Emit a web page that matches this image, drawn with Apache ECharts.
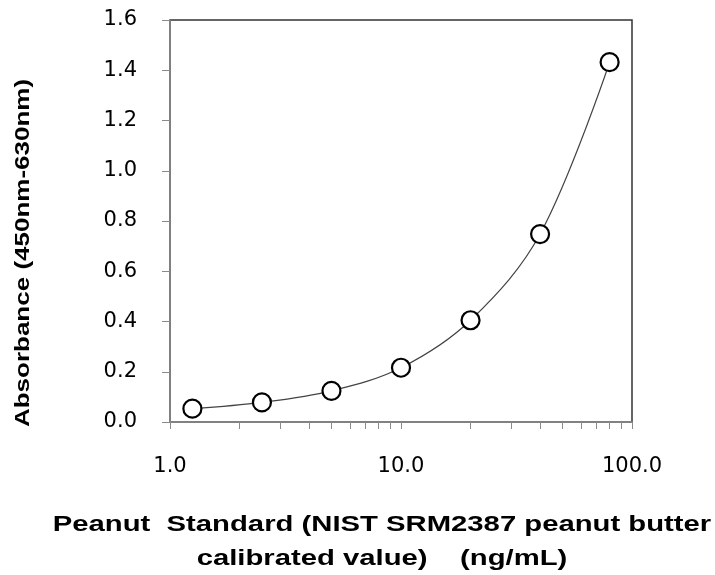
<!DOCTYPE html>
<html>
<head>
<meta charset="utf-8">
<title>Peanut standard curve</title>
<script src="https://cdn.jsdelivr.net/npm/echarts@6/dist/echarts.min.js"></script>
<style>
  html, body { margin: 0; padding: 0; background: #fff; }
  #chart { width: 715px; height: 575px; }
</style>
</head>
<body>
<div id="chart"></div>
<script>
// concentration (ng/mL) and absorbance
const concentration = [1.25, 2.5, 5, 10, 20, 40, 80]
const absorbance = [0.053, 0.078, 0.124, 0.216, 0.405, 0.748, 1.432]
// log axis: labelled decades + minor ticks
const xLabelValues = [1, 10, 100]
const xTickValues = [1, 2, 3, 4, 5, 6, 7, 8, 9, 10, 20, 30, 40, 50, 60, 70, 80, 90, 100]
const yTicks = [0, 0.2, 0.4, 0.6, 0.8, 1.0, 1.2, 1.4, 1.6]

const xTitle = ['Peanut  Standard (NIST SRM2387 peanut butter', 'calibrated value)    (ng/mL)']
const yTitle = 'Absorbance (450nm-630nm)'

const chart = echarts.init(document.getElementById('chart'))

const axisGrey = '#8a8a8a'
const tickFont = {color: '#000', fontFamily: 'DejaVu Sans', fontSize: 21}

const option = {
    animation: false,
    backgroundColor: '#fff',
    grid: {
        left: 170,
        right: 83,
        top: 20,
        bottom: 153,
        show: true,
        borderColor: '#333',
        borderWidth: 1.5
    },
    xAxis: {
        type: 'log',
        logBase: 10,
        min: 1,
        max: 100,
        axisLine: {show: true, lineStyle: {color: axisGrey, width: 1.5}},
        axisTick: {
            show: true,
            inside: false,
            length: 7,
            customValues: xTickValues,
            lineStyle: {color: axisGrey, width: 1}
        },
        axisLabel: {
            ...tickFont,
            margin: 34,
            customValues: xLabelValues,
            formatter: v => Number(v).toFixed(1)
        },
        splitLine: {show: false}
    },
    yAxis: {
        type: 'value',
        min: 0,
        max: 1.6,
        interval: 0.2,
        axisLine: {show: true, lineStyle: {color: axisGrey, width: 1.5}},
        axisTick: {show: true, inside: false, length: 8, lineStyle: {color: axisGrey, width: 1}},
        axisLabel: {
            ...tickFont,
            margin: 33,
            customValues: yTicks,
            formatter: v => Number(v).toFixed(1)
        },
        splitLine: {show: false}
    },
    graphic: [
        {
            type: 'text',
            x: 382,
            y: 508,
            scaleX: 1.33,
            style: {
                text: xTitle.join('\n'),
                fontFamily: 'Liberation Sans',
                fontWeight: 'bold',
                fontSize: 22,
                lineHeight: 34,
                fill: '#000',
                textAlign: 'center',
                textVerticalAlign: 'top'
            }
        },
        {
            type: 'text',
            x: 23,
            y: 253,
            rotation: Math.PI / 2,
            scaleX: 1.3,
            style: {
                text: yTitle,
                fontFamily: 'Liberation Sans',
                fontWeight: 'bold',
                fontSize: 20,
                fill: '#000',
                textAlign: 'center',
                textVerticalAlign: 'middle'
            }
        }
    ],
    series: [
        {
            type: 'line',
            data: concentration.map((c, i) => [c, absorbance[i]]),
            smooth: 0.35,
            symbol: 'circle',
            symbolSize: 18,
            lineStyle: {color: '#444', width: 1.2},
            itemStyle: {color: '#fff', borderColor: '#000', borderWidth: 2.2},
            z: 3
        }
    ]
}

chart.setOption(option)
</script>
</body>
</html>
